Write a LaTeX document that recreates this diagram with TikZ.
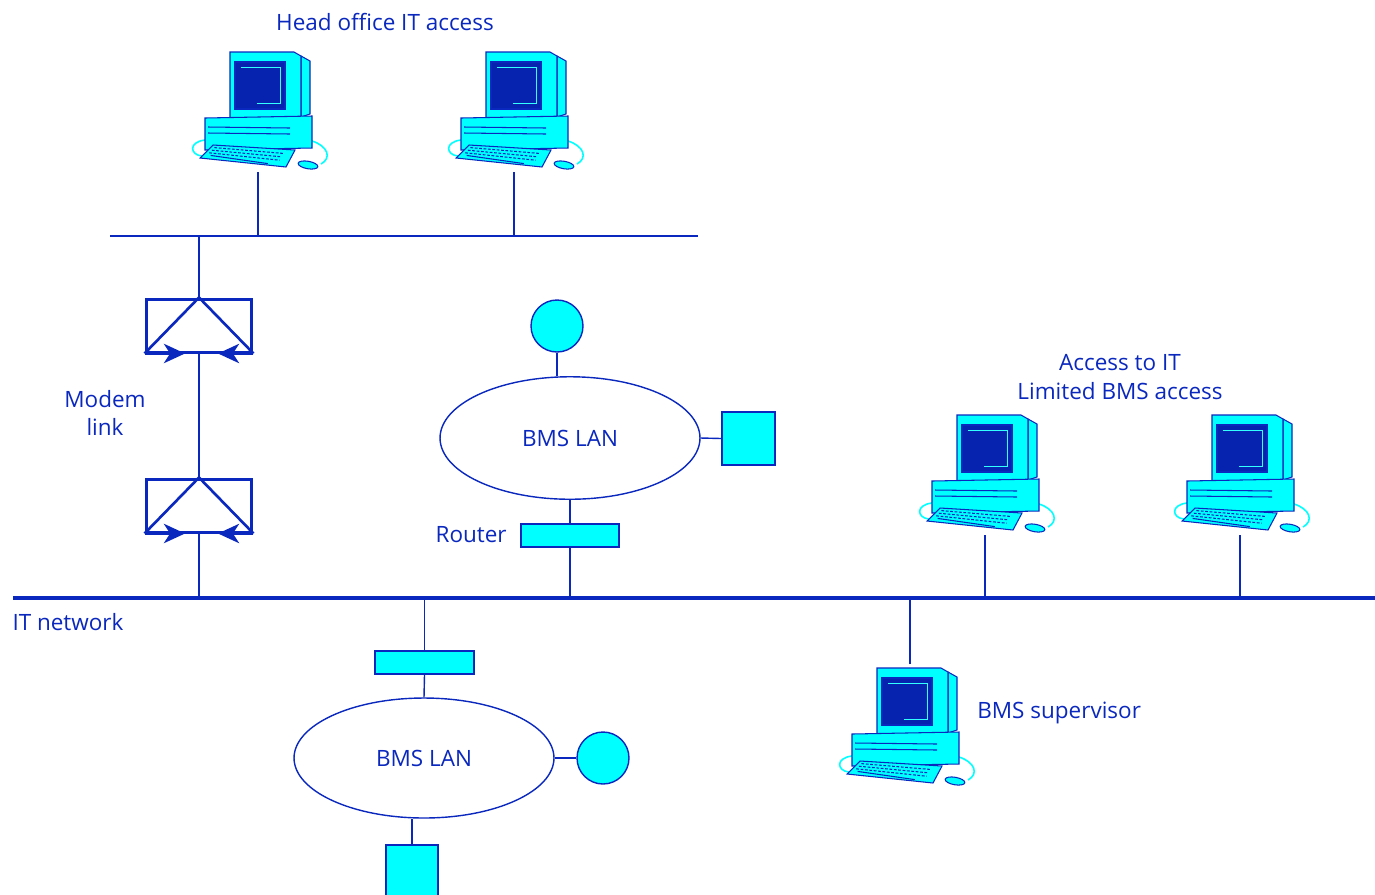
\documentclass[tikz,border=0pt]{standalone}
\usepackage{fontspec}
\setmainfont{Open Sans}
\definecolor{NetBlue}{RGB}{10,40,190}
\definecolor{ScreenBlue}{RGB}{5,35,175}
\definecolor{PCcyan}{RGB}{0,255,255}
\usetikzlibrary{shapes.geometric,arrows.meta,positioning,calc}

% desktop PC icon, origin just below the keyboard
\tikzset{
  pcline/.style={draw=NetBlue,line width=0.6pt},
  cable/.style={draw=PCcyan,line width=0.9pt},
  pics/pc/.style={code={
    \draw[cable] (-53,-32) .. controls (-70,-30) and (-68,-17) .. (-56,-16);
    \draw[cable] (54,-31) .. controls (70,-26) and (74,-14) .. (63,-8);
    \draw[pcline,fill=PCcyan] (43,-116) -- (52,-111) -- (52,-58) -- (43,-55) -- cycle;
    \draw[pcline,fill=PCcyan] (-28,-120) -- (36,-120) -- (43,-116) -- (43,-55) -- (-28,-52) -- cycle;
    \draw[pcline,fill=ScreenBlue] (-23,-110) rectangle (27,-63);
    \draw[PCcyan!80!white,line width=0.45pt] (-17,-105) -- (22,-105) -- (22,-69) -- (-1,-69);
    \draw[pcline,fill=PCcyan] (-53,-54) -- (54,-56) -- (54,-24) -- (-53,-22) -- cycle;
    \draw[pcline] (-50,-45) -- (32,-44) (-50,-39) -- (32,-38);
    \draw[pcline,fill=PCcyan] (-45,-27) -- (37,-22) -- (28,-5) -- (-58,-14) -- cycle;
    \foreach \k in {0.2,0.4,0.6}
      \draw[pcline,dash pattern=on 1.6pt off 0.9pt]
        ($(-45,-27)!\k!(-58,-14)+(4,0)$) -- ($(37,-22)!\k!(28,-5)+(-10,0)$);
    \draw[pcline] ($(-45,-27)!0.8!(-58,-14)+(8,0)$) -- ($(37,-22)!0.8!(28,-5)+(-20,0)$);
    \draw[pcline,fill=PCcyan,rotate around={-10:(50,-7)}] (50,-7) ellipse [x radius=0.2cm,y radius=0.075cm];
    \coordinate (-foot) at (0,0);
  }}
}

\begin{document}
\begin{tikzpicture}[x=0.02cm,y=-0.02cm,
    font=\fontsize{12.8}{16}\selectfont,
    every node/.style={text=NetBlue},
    wire/.style={draw=NetBlue,line width=0.8pt},
    itbus/.style={draw=NetBlue,line width=2.2pt},
    lan/.style={ellipse,draw=NetBlue,line width=0.8pt,minimum width=5.2cm,minimum height=2.45cm,inner sep=0pt},
    dev/.style={draw=NetBlue,line width=0.8pt,fill=PCcyan,inner sep=0pt},
    modem/.style={draw=NetBlue,line width=1.7pt,minimum width=2.12cm,minimum height=1.06cm,inner sep=0pt},
    modemtip/.style={NetBlue,line width=1.5pt,-{Stealth[length=12pt,width=11pt,inset=3.5pt]}},
    lbl/.style={align=center,inner sep=0pt}]
  \useasboundingbox (0,0) rectangle (1375,894);

  % head office side
  \node[lbl] (hotitle) at (385,22) {Head office IT access};
  \pic (pca) at (258,172) {pc};
  \pic (pcb) at (514,172) {pc};
  \coordinate (hoL) at (110,236);
  \coordinate (hoR) at (698,236);
  \draw[wire] (hoL) -- (hoR);
  \foreach \p in {pca,pcb}
    \draw[wire] (\p-foot) -- (\p-foot |- hoL);

  % modem link
  \node[modem] (m1) at (199,325.5) {};
  \node[modem] (m2) at (199,505.5) {};
  \foreach \m in {m1,m2} {
    \draw[NetBlue,line width=1.5pt] (\m.south west) -- (\m.north) -- (\m.south east);
    \draw[modemtip] (\m.south west) -- ([xshift=-0.28cm]\m.south);
    \draw[modemtip] (\m.south east) -- ([xshift=0.38cm]\m.south);
  }
  \node[lbl] (mlabel) at (105,413) {Modem\\link};
  \draw[wire] (m1.north) -- (m1.north |- hoL);
  \draw[wire] (m1.south) -- (m2.north);

  % IT network
  \coordinate (itL) at (13,598);
  \coordinate (itR) at (1375,598);
  \draw[itbus] (itL) -- (itR);
  \node[lbl] (itlabel) at (68,622) {IT network};
  \draw[wire] (m2.south) -- (m2.south |- itL);

  % upper BMS LAN
  \node[lan] (lan1) at (570,438) {BMS LAN};
  \node[dev,circle,minimum size=1.04cm] (c1) at (557,326) {};
  \node[dev,minimum size=1.06cm] (s1) at (748.5,438.5) {};
  \node[dev,minimum width=1.96cm,minimum height=0.46cm] (r1) at (570,535.5) {};
  \node[lbl,anchor=east] (rlabel) at (507,535) {Router};
  \draw[wire] (c1.south) -- (c1.south |- lan1.north);
  \draw[wire] (lan1.east) -- (s1.west);
  \draw[wire] (lan1.south) -- (r1.north);
  \draw[wire] (r1.south) -- (r1.south |- itL);

  % lower BMS LAN
  \node[dev,minimum width=1.98cm,minimum height=0.46cm] (r2) at (424.5,662.5) {};
  \node[lan,minimum height=2.4cm] (lan2) at (424,758) {BMS LAN};
  \node[dev,circle,minimum size=1.04cm] (c2) at (603,758) {};
  \node[dev,minimum size=1.04cm] (s2) at (412,871) {};
  \draw[wire] (r2.north) -- (r2.north |- itL);
  \draw[wire] (r2.south) -- (lan2.north);
  \draw[wire] (lan2.east) -- (c2.west);
  \draw[wire] (s2.north) -- (s2.north |- lan2.south);

  % IT users with limited BMS access
  \node[lbl] (acclabel) at (1120,377) {Access to IT\\Limited BMS access};
  \pic (pcc) at (985,535) {pc};
  \pic (pcd) at (1240,535) {pc};
  \foreach \p in {pcc,pcd}
    \draw[wire] (\p-foot) -- (\p-foot |- itL);

  % supervisor
  \pic (pcs) at (905,788) {pc};
  \coordinate (suptop) at (910,664);
  \draw[wire] (suptop) -- (suptop |- itL);
  \node[lbl,anchor=west] (suplabel) at (977,713) {BMS supervisor};
\end{tikzpicture}
\end{document}
